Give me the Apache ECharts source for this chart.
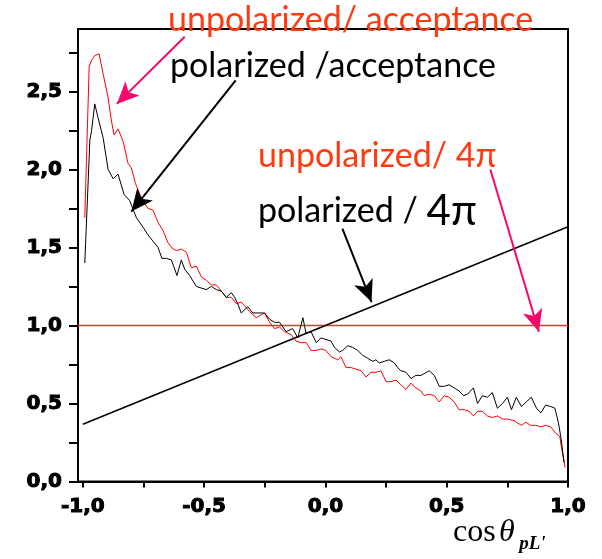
<!DOCTYPE html>
<html>
<head>
<meta charset="utf-8">
<script src="https://cdn.jsdelivr.net/npm/echarts@6/dist/echarts.min.js"></script>
<style>html,body{margin:0;padding:0;background:#fff;}#c{width:602px;height:559px;}</style>
</head>
<body>
<div id="c"></div>
<script>
// x positions (cos theta) and values
const unpolAccX = [-0.992,-0.974,-0.964,-0.951,-0.933,-0.916,-0.896,-0.882,-0.871,-0.855,-0.834,-0.814,-0.800,-0.783,-0.765,-0.745,-0.731,-0.711,-0.690,-0.670,-0.649,-0.628,-0.614,-0.594,-0.573,-0.553,-0.532,-0.511,-0.491,-0.470,-0.450,-0.429,-0.409,-0.388,-0.367,-0.347,-0.313,-0.285,-0.251,-0.230,-0.210,-0.189,-0.169,-0.141,-0.121,-0.100,-0.079,-0.059,-0.038,-0.018,0.002,0.023,0.051,0.064,0.085,0.106,0.126,0.147,0.167,0.188,0.209,0.229,0.250,0.270,0.291,0.311,0.332,0.352,0.373,0.393,0.407,0.428,0.449,0.469,0.490,0.510,0.531,0.551,0.572,0.593,0.610,0.627,0.647,0.668,0.688,0.709,0.730,0.750,0.778,0.787,0.808,0.826,0.846,0.867,0.888,0.908,0.929,0.949,0.966,0.974,0.988];
const unpolAccY = [1.69,2.66,2.70,2.73,2.74,2.61,2.46,2.31,2.22,2.26,2.18,2.04,2.01,1.91,1.84,1.78,1.75,1.74,1.66,1.61,1.53,1.49,1.48,1.49,1.47,1.37,1.38,1.31,1.29,1.26,1.26,1.22,1.18,1.18,1.14,1.15,1.09,1.05,1.08,1.02,0.98,0.99,0.96,0.94,0.90,0.89,0.89,0.84,0.84,0.85,0.84,0.80,0.78,0.80,0.73,0.73,0.72,0.71,0.67,0.70,0.70,0.71,0.64,0.64,0.65,0.62,0.59,0.63,0.60,0.58,0.55,0.56,0.55,0.51,0.55,0.54,0.51,0.46,0.46,0.45,0.42,0.45,0.45,0.42,0.41,0.42,0.40,0.40,0.39,0.38,0.36,0.38,0.36,0.36,0.35,0.36,0.35,0.31,0.29,0.21,0.09];

const polAccX = [-0.992,-0.971,-0.964,-0.951,-0.934,-0.916,-0.896,-0.875,-0.855,-0.830,-0.807,-0.779,-0.752,-0.745,-0.731,-0.711,-0.690,-0.674,-0.656,-0.635,-0.612,-0.594,-0.580,-0.560,-0.532,-0.512,-0.491,-0.470,-0.450,-0.429,-0.409,-0.388,-0.374,-0.359,-0.347,-0.320,-0.299,-0.279,-0.251,-0.230,-0.210,-0.189,-0.162,-0.135,-0.114,-0.093,-0.080,-0.059,-0.038,-0.018,0.002,0.023,0.037,0.058,0.071,0.092,0.112,0.133,0.153,0.174,0.195,0.208,0.222,0.243,0.263,0.284,0.298,0.311,0.332,0.353,0.373,0.394,0.428,0.449,0.469,0.490,0.510,0.531,0.551,0.569,0.586,0.610,0.627,0.647,0.668,0.688,0.709,0.730,0.750,0.767,0.787,0.808,0.828,0.849,0.870,0.888,0.908,0.929,0.946,0.960,0.970,0.984];
const polAccY = [1.40,2.19,2.25,2.42,2.31,2.20,2.00,1.94,1.97,1.84,1.80,1.69,1.63,1.63,1.58,1.54,1.50,1.43,1.43,1.42,1.32,1.42,1.36,1.32,1.25,1.24,1.23,1.25,1.23,1.22,1.18,1.21,1.18,1.13,1.08,1.12,1.08,1.08,1.08,1.04,1.02,1.02,0.96,0.98,0.92,1.05,0.95,0.96,0.89,0.92,0.91,0.90,0.86,0.83,0.84,0.87,0.86,0.84,0.81,0.79,0.77,0.78,0.76,0.77,0.78,0.76,0.73,0.71,0.70,0.66,0.68,0.68,0.71,0.68,0.61,0.61,0.62,0.60,0.58,0.55,0.56,0.60,0.50,0.55,0.54,0.57,0.47,0.50,0.54,0.46,0.54,0.48,0.51,0.54,0.47,0.44,0.49,0.48,0.47,0.38,0.29,0.12];

const unpol4piX = [-1.02, 1.0];
const unpol4piY = [1.0, 1.0];
const pol4piX = [-1.0, 1.0];
const pol4piY = [0.367, 1.633];

const xTicks = [-1,-0.75,-0.5,-0.25,0,0.25,0.5,0.75,1];
const xTickLabels = [-1,-0.5,0,0.5,1];
const yTicks = [0,0.25,0.5,0.75,1,1.25,1.5,1.75,2,2.25,2.5,2.75];
const yTickLabels = [0,0.5,1,1.5,2,2.5];

// annotation arrows (data coordinates: start -> tip)
const arrowPink1 = [[-0.58,2.85],[-0.86,2.42]];
const arrowBlack1 = [[-0.37,2.57],[-0.80,1.73]];
const arrowBlack2 = [[0.07,1.62],[0.19,1.15]];
const arrowPink2 = [[0.68,2.0],[0.88,0.96]];

function zip(xs, ys){ return xs.map((x,i)=>[x, ys[i]]); }
function fmt(v){ return v.toFixed(1).replace('.', ','); }

const chart = echarts.init(document.getElementById('c'), null, {renderer:'canvas'});
const labelStyle = {color:'#000', fontFamily:'DejaVu Sans', fontWeight:'bold', fontSize:20, textBorderColor:'#000', textBorderWidth:1};

function arrowLine(pts, color){
  return {
    type:'line', data:[], silent:true,
    markLine:{
      silent:true, animation:false,
      symbol:['none','arrow'], symbolSize:[15,22],
      label:{show:false},
      lineStyle:{color:color, width:2, type:'solid'},
      data:[[{coord:pts[0]},{coord:pts[1]}]]
    }
  };
}

chart.setOption({
  animation:false,
  backgroundColor:'#fff',
  grid:{left:78, right:34, top:29, bottom:77.5, show:true, borderColor:'#000', borderWidth:2, backgroundColor:'transparent'},
  xAxis:{
    type:'value', min:-1.02, max:1,
    axisLine:{show:true, onZero:false, lineStyle:{color:'#000', width:2}},
    axisTick:{show:true, inside:false, length:6, customValues:xTicks, lineStyle:{color:'#000', width:2}},
    axisLabel:{show:true, customValues:xTickLabels, margin:15, formatter:fmt, ...labelStyle},
    splitLine:{show:false}
  },
  yAxis:{
    type:'value', min:0, max:2.9,
    axisLine:{show:true, onZero:false, lineStyle:{color:'#000', width:2}},
    axisTick:{show:true, inside:false, length:9, customValues:yTicks, lineStyle:{color:'#000', width:2}},
    axisLabel:{show:true, customValues:yTickLabels, margin:16, formatter:fmt, ...labelStyle},
    splitLine:{show:false}
  },
  series:[
    {type:'line', data:zip(unpol4piX, unpol4piY), showSymbol:false, lineStyle:{color:'#ff2a2a', width:1.5}, silent:true},
    {type:'line', data:zip(pol4piX, pol4piY), showSymbol:false, lineStyle:{color:'#000', width:1.5}, silent:true},
    {type:'line', data:zip(unpolAccX, unpolAccY), showSymbol:false, lineStyle:{color:'#ff0000', width:1}, silent:true},
    {type:'line', data:zip(polAccX, polAccY), showSymbol:false, lineStyle:{color:'#000', width:1}, silent:true},
    arrowLine(arrowPink1, '#f5076b'),
    arrowLine(arrowBlack1, '#000'),
    arrowLine(arrowBlack2, '#000'),
    arrowLine(arrowPink2, '#f5076b')
  ],
  graphic:[
    {type:'text', left:168, top:3, style:{text:'unpolarized/ acceptance', fill:'#ff3a0f', font:'34px Lato'}},
    {type:'text', left:170, top:49, style:{text:'polarized /acceptance', fill:'#000', font:'34px Lato'}},
    {type:'text', left:258, top:139, style:{text:'unpolarized/ 4π', fill:'#ff3a0f', font:'34px Lato'}},
    {type:'text', left:258, top:190, style:{
      text:'{a|polarized / }{b|4π}',
      rich:{a:{fill:'#000', fontFamily:'Lato', fontSize:34}, b:{fill:'#000', fontFamily:'Lato', fontSize:42}}
    }},
    {type:'text', left:453, top:517, style:{
      text:'{a|cos}{s| }{b|θ}{t| }{c|pL\'}',
      rich:{
        a:{fill:'#000', fontFamily:'Liberation Serif', fontSize:32},
        s:{fontSize:12},
        t:{fontSize:16},
        b:{fill:'#000', fontFamily:'Liberation Serif', fontStyle:'italic', fontSize:32},
        c:{fill:'#000', fontFamily:'Liberation Serif', fontStyle:'italic', fontWeight:'bold', fontSize:19, padding:[22,0,0,0]}
      }
    }}
  ]
});
</script>
</body>
</html>
